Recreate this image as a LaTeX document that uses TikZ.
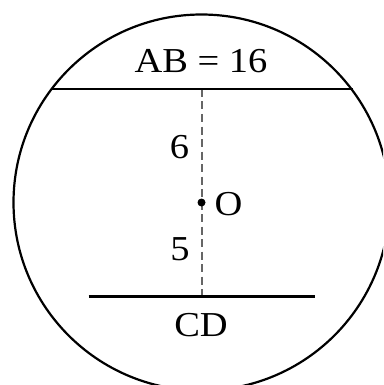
\documentclass[tikz,border=0pt]{standalone}
\usepackage{graphicx}
\usepackage{fontspec}
\setmainfont{Liberation Serif}
\newcommand{\widetxt}[1]{\scalebox{1.1}[1]{#1}}
\begin{document}
\begin{tikzpicture}[x=1pt,y=-1pt,
  lbl/.style={anchor=base,inner sep=0pt,font=\fontsize{35}{42}\selectfont},
  chord/.style={line width=2.2pt},
  ring/.style={line width=2.2pt},
  dashline/.style={line width=1.3pt,draw=black!60,dash pattern=on 8pt off 4.5pt}]
\useasboundingbox (0,0) rectangle (383,385);
\clip (0,0) rectangle (383,385);
\coordinate (ctr) at (201.5,202.5);
\draw[ring] (ctr) circle[radius=188];
\coordinate (A) at (51,89);
\coordinate (B) at (353,89);
\coordinate (C) at (88.5,296.5);
\coordinate (D) at (315,296.5);
\coordinate (M1) at (202,89);
\coordinate (M2) at (202,296.5);
\draw[dashline] (M1) -- (M2);
\draw[chord] (A) -- (B);
\draw[chord] (C) -- (D);
\node[circle,fill=black,inner sep=0pt,minimum size=8pt] (O) at (201.5,202.5) {};
\node[lbl] (lab) at (201,72.5) {\widetxt{AB = 16}};
\node[lbl] (six) at (179.5,158.3) {\widetxt{6}};
\node[lbl] (oname) at (228.5,215) {\widetxt{O}};
\node[lbl] (five) at (180,260.7) {\widetxt{5}};
\node[lbl] (cd) at (201,336) {\widetxt{CD}};
\end{tikzpicture}
\end{document}
